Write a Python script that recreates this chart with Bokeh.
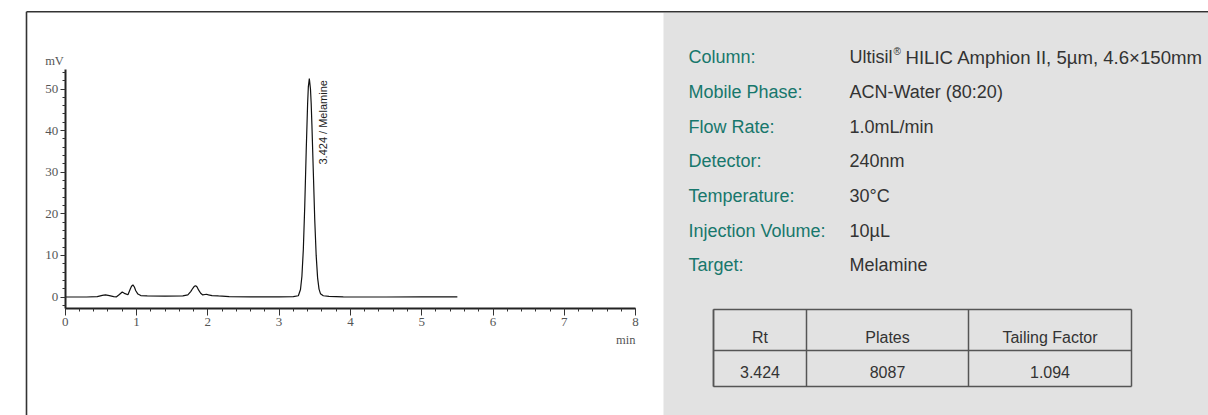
import math
from bokeh.plotting import figure
from bokeh.models import LinearAxis, FixedTicker, Range1d
from bokeh.core.properties import value
from bokeh.embed import file_html
from bokeh.resources import INLINE

# ---------------- data ----------------
time_min = [0.00, 0.30, 0.45, 0.52, 0.565, 0.62, 0.68, 0.72, 0.76, 0.80, 0.84, 0.88,
            0.91, 0.93, 0.95, 0.97, 0.99, 1.02, 1.06, 1.15, 1.40, 1.65, 1.72, 1.76,
            1.79, 1.81, 1.83, 1.85, 1.87, 1.90, 1.93, 1.96, 1.98, 2.01, 2.06, 2.15,
            2.30, 2.60, 3.00, 3.20, 3.27, 3.30, 3.32, 3.34, 3.36, 3.38, 3.40, 3.41,
            3.424, 3.44, 3.45, 3.46, 3.48, 3.50, 3.52, 3.54, 3.56, 3.58, 3.62, 3.70,
            3.90, 4.50, 5.00, 5.50]
signal_mv = [0.00, 0.00, 0.10, 0.40, 0.50, 0.35, 0.10, 0.05, 0.60, 1.20, 0.80, 0.55,
             1.80, 2.60, 2.90, 2.40, 1.50, 0.70, 0.35, 0.25, 0.20, 0.25, 0.50, 1.30,
             2.10, 2.55, 2.70, 2.40, 1.70, 0.90, 0.50, 0.60, 0.65, 0.50, 0.35, 0.25,
             0.10, 0.05, 0.05, 0.10, 0.30, 1.80, 5.00, 11.5, 22.0, 35.0, 46.5, 50.5,
             52.5, 50.0, 46.5, 41.5, 30.0, 18.5, 10.0, 4.60, 1.90, 0.80, 0.30, 0.15,
             0.05, 0.00, 0.05, 0.05]
peak_label = "3.424 / Melamine"

x_ticks = [0, 1, 2, 3, 4, 5, 6, 7, 8]
y_ticks = [0, 10, 20, 30, 40, 50]
x_minor = [round(0.2 * i, 1) for i in range(41)]
y_minor = [-2 + 2 * i for i in range(29)]
x_unit = "min"
y_unit = "mV"

info_labels = ["Column:", "Mobile Phase:", "Flow Rate:", "Detector:",
               "Temperature:", "Injection Volume:", "Target:"]
info_values = ["Ultisil", "ACN-Water (80:20)", "1.0mL/min", "240nm", "30\u00b0C",
               "10\u00b5L", "Melamine"]
column_rest = "HILIC Amphion II, 5\u00b5m, 4.6\u00d7150mm"
table_header = ["Rt", "Plates", "Tailing Factor"]
table_row = ["3.424", "8087", "1.094"]

# ---------------- layout (page pixels) ----------------
W, H = 1208, 415
PAGE_L, PAGE_T = 0, 0
X0, SX = 64.7, 71.3     # page x of t=0, px per minute
Y0, SY = 296.5, 4.16    # page y of 0 mV, px per mV

def dx(X):
    return (X - X0) / SX

def dy(Y):
    return (Y0 - Y) / SY

p = figure(width=W, height=H, output_backend="svg", toolbar_location=None,
           x_axis_type=None, y_axis_type=None, min_border=0,
           x_range=Range1d(dx(PAGE_L), dx(PAGE_L + W)),
           y_range=Range1d(dy(PAGE_T + H), dy(PAGE_T)))
p.outline_line_color = None
p.background_fill_color = "white"
p.border_fill_color = "white"
p.grid.visible = False

# gray info panel
p.quad(left=[dx(663)], right=[dx(1220)], top=[dy(12.3)], bottom=[dy(430)],
       fill_color="#e2e2e2", line_color=None)

# outer frame lines
p.segment(x0=[dx(26), dx(26)], y0=[dy(11.3), dy(11.3)],
          x1=[dx(1220), dx(26)], y1=[dy(11.3), dy(430)],
          line_color="#333333", line_width=1.6)

# axes
x_bot = dy(308.3)
y_top = dy(69)
xaxis = LinearAxis(fixed_location=x_bot, bounds=(0, 8),
                   ticker=FixedTicker(ticks=x_ticks, minor_ticks=x_minor))
yaxis = LinearAxis(fixed_location=0, bounds=(x_bot, y_top),
                   ticker=FixedTicker(ticks=y_ticks, minor_ticks=y_minor))
for ax, tout in ((xaxis, 7), (yaxis, 5)):
    ax.axis_line_color = "#222222"
    ax.axis_line_width = 2
    ax.major_tick_line_color = "#333333"
    ax.minor_tick_line_color = "#333333"
    ax.major_tick_in = 0
    ax.major_tick_out = tout
    ax.minor_tick_in = 0
    ax.minor_tick_out = 3
    ax.major_label_text_font = "Liberation Serif"
    ax.major_label_text_font_size = "13px"
    ax.major_label_text_color = "#555555"
    ax.major_label_standoff = 2
p.add_layout(xaxis, "below")
p.add_layout(yaxis, "left")

# axis unit labels
p.text(x=[dx(54)], y=[dy(60)], text=[y_unit], text_font=value("Liberation Serif"),
       text_font_size=value("12.5px"), text_color="#555555",
       text_align="center", text_baseline="alphabetic")
p.text(x=[dx(635)], y=[dy(339)], text=[x_unit], text_font=value("Liberation Serif"),
       text_font_size=value("12.5px"), text_color="#555555",
       text_align="right", text_baseline="alphabetic")

# chromatogram
p.line(time_min, signal_mv, line_color="#111111", line_width=1.2)

# peak label
p.text(x=[dx(322)], y=[dy(164)], text=[peak_label], angle=math.pi / 2,
       text_font=value("Liberation Sans"), text_font_size=value("11px"),
       text_color="#222222", text_align="left", text_baseline="middle")

# info rows
row_base = [56.8 + 34.65 * i for i in range(len(info_labels))]
p.text(x=[dx(688)] * len(info_labels), y=[dy(b) for b in row_base], text=info_labels,
       text_font=value("Liberation Sans"), text_font_size=value("18px"),
       text_color="#17776c", text_align="left", text_baseline="alphabetic")
p.text(x=[dx(849)] * len(info_values), y=[dy(b) for b in row_base], text=info_values,
       text_font=value("Liberation Sans"), text_font_size=value("18px"),
       text_color="#333333", text_align="left", text_baseline="alphabetic")
# registered mark (superscript) and rest of the column description
p.text(x=[dx(893)], y=[dy(row_base[0] - 6)], text=["\u00ae"],
       text_font=value("Liberation Sans"), text_font_size=value("10px"),
       text_color="#333333", text_align="left", text_baseline="alphabetic")
p.text(x=[dx(905)], y=[dy(row_base[0])], text=[column_rest],
       text_font=value("Liberation Sans"), text_font_size=value("18.6px"),
       text_color="#333333", text_align="left", text_baseline="alphabetic")

# table
TL, TR, TT, TB = 713, 1131, 309, 386
cols = [TL, 806, 968, TR]
mid_y = 350
sx0 = [dx(TL), dx(TL), dx(TL), dx(TL)] + [dx(c) for c in cols]
sy0 = [dy(TT), dy(mid_y), dy(TB), dy(TT)] + [dy(TT)] * 4
sx1 = [dx(TR), dx(TR), dx(TR), dx(TL)] + [dx(c) for c in cols]
sy1 = [dy(TT), dy(mid_y), dy(TB), dy(TB)] + [dy(TB)] * 4
p.segment(x0=sx0, y0=sy0, x1=sx1, y1=sy1, line_color="#555555", line_width=1.5)
centers = [(cols[i] + cols[i + 1]) / 2 for i in range(3)]
p.text(x=[dx(c) for c in centers], y=[dy(337.3)] * 3, text=table_header,
       text_font=value("Liberation Sans"), text_font_size=value("16px"),
       text_color="#333333", text_align="center", text_baseline="alphabetic")
p.text(x=[dx(c) for c in centers], y=[dy(371.7)] * 3, text=table_row,
       text_font=value("Liberation Sans"), text_font_size=value("16px"),
       text_color="#333333", text_align="center", text_baseline="alphabetic")

open("out.html", "w").write(file_html(p, INLINE))
